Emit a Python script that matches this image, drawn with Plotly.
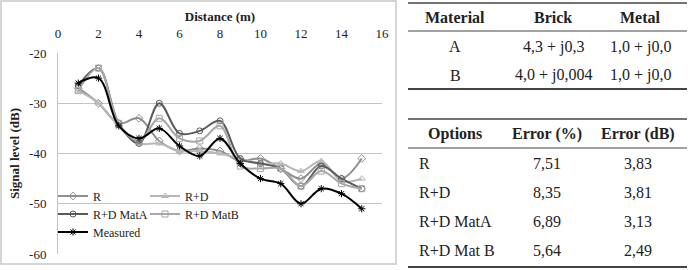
import plotly.graph_objects as go

W, H = 689, 270

# ---------------- data ----------------
distance = list(range(1, 16))
r_vals = [-27, -30, -34, -33, -37.5, -39.5, -39, -39.5, -41.5, -41, -43, -45, -42, -45, -41]
rd_vals = [-27.5, -30, -34.5, -38, -38, -39.5, -39.5, -40, -41, -42, -42, -43.5, -41.5, -45.5, -45]
mata_vals = [-26.5, -23, -34, -38, -30, -36, -35.5, -33.5, -41, -42, -43, -46.5, -42.5, -45, -47]
matb_vals = [-27.5, -23, -34, -37.5, -33, -37, -37.5, -34.5, -42.5, -43, -43, -46.5, -43.5, -46, -47]
measured_vals = [-26, -25, -34.5, -37, -35, -38.5, -40.5, -37, -42, -45, -46, -50, -47, -48, -51]
x_ticks = [0, 2, 4, 6, 8, 10, 12, 14, 16]
y_ticks = [-60, -50, -40, -30, -20]

table1_header = ["Material", "Brick", "Metal"]
table1_rows = [["A", "4,3 + j0,3", "1,0 + j0,0"],
               ["B", "4,0 + j0,004", "1,0 + j0,0"]]
table2_header = ["Options", "Error (%)", "Error (dB)"]
table2_rows = [["R", "7,51", "3,83"],
               ["R+D", "8,35", "3,81"],
               ["R+D MatA", "6,89", "3,13"],
               ["R+D Mat B", "5,64", "2,49"]]

SERIF = "Liberation Serif"


def px(x):
    return x / W


def py(y):
    return 1 - y / H


fig = go.Figure()

series = [
    ("R", r_vals, "#8f8f8f", "diamond-open", "legend"),
    ("R+D", rd_vals, "#b8b8b8", "triangle-up-open", "legend2"),
    ("R+D MatA", mata_vals, "#5a5a5a", "circle-open", "legend3"),
    ("R+D MatB", matb_vals, "#a8a8a8", "square-open", "legend4"),
    ("Measured", measured_vals, "#000000", "asterisk-open", "legend5"),
]
for name, vals, col, sym, leg in series:
    fig.add_trace(go.Scatter(
        x=distance, y=vals, name=name, mode="lines+markers", showlegend=True,
        line=dict(color=col, width=2, shape="spline", smoothing=1),
        marker=dict(symbol=sym, size=6, color=col, line=dict(width=1, color=col)),
        legend=leg,
    ))

fig.update_layout(
    width=W, height=H, showlegend=True,
    margin=dict(l=0, r=0, t=0, b=0),
    paper_bgcolor="white", plot_bgcolor="white",
    font=dict(family=SERIF, size=13, color="#222222"),
    xaxis=dict(
        domain=[px(58), px(382)], range=[0, 16], tickvals=x_ticks,
        ticktext=[str(v) for v in x_ticks], automargin=False,
        side="top", showgrid=False, zeroline=False, showline=False,
        ticks="outside", ticklen=9, tickcolor="rgba(0,0,0,0)",
        tickfont=dict(family=SERIF, size=13),
        title=dict(text="<b>Distance (m)</b>", font=dict(family=SERIF, size=13), standoff=1),
    ),
    yaxis=dict(
        domain=[py(254), py(53)], range=[-60, -20], tickvals=y_ticks,
        ticktext=[str(v) for v in y_ticks], automargin=False,
        showgrid=True, gridcolor="#c4c4c4", gridwidth=1, zeroline=False,
        showline=True, linecolor="#c4c4c4", linewidth=1,
        ticks="outside", ticklen=8, tickcolor="rgba(0,0,0,0)",
        tickfont=dict(family=SERIF, size=13),
        title=dict(text="<b>Signal level (dB)</b>", font=dict(family=SERIF, size=13), standoff=6),
    ),
)

leg_common = dict(orientation="h", xanchor="left", yanchor="middle",
                  bgcolor="rgba(0,0,0,0)", font=dict(family=SERIF, size=12, color="#222222"),
                  itemwidth=30, tracegroupgap=0, visible=True)
fig.update_layout(
    legend=dict(x=px(53), y=py(196), **leg_common),
    legend2=dict(x=px(145), y=py(196), **leg_common),
    legend3=dict(x=px(53), y=py(214), **leg_common),
    legend4=dict(x=px(145), y=py(214), **leg_common),
    legend5=dict(x=px(53), y=py(232), **leg_common),
)

shapes = []
annotations = []
# outer chart frame
shapes.append(dict(type="rect", xref="paper", yref="paper",
                   x0=px(1), x1=px(396), y0=py(264), y1=py(1),
                   line=dict(color="#c8c8c8", width=1.5)))

TX0, TX1 = px(408), px(687)


def hline(y, width=1.2, color="#444444"):
    shapes.append(dict(type="line", xref="paper", yref="paper",
                       x0=TX0, x1=TX1, y0=py(y), y1=py(y),
                       line=dict(color=color, width=width)))


def text(x, y, s, bold=False, anchor="center"):
    annotations.append(dict(xref="paper", yref="paper", x=px(x), y=py(y),
                            text=f"<b>{s}</b>" if bold else s, showarrow=False,
                            xanchor=anchor, yanchor="middle",
                            font=dict(family=SERIF, size=16, color="#222222")))


# table 1
hline(3, 1.5)
hline(31, 1.2)
hline(89, 2.2)
t1_cols = [455, 553, 640]
for cx, h in zip(t1_cols, table1_header):
    text(cx, 17, h, bold=True)
for ry, row in zip([47, 75], table1_rows):
    for cx, v in zip(t1_cols, row):
        text(cx, ry, v)

# table 2
hline(119, 1.5)
hline(148, 1.2)
hline(267, 2.2)
text(455, 134, table2_header[0], bold=True)
text(547, 134, table2_header[1], bold=True)
text(638, 134, table2_header[2], bold=True)
for ry, row in zip([163, 192, 221, 250], table2_rows):
    text(417, ry, row[0], anchor="left")
    text(547, ry, row[1])
    text(638, ry, row[2])

fig.update_layout(shapes=shapes, annotations=annotations)

fig.write_html("out.html")
